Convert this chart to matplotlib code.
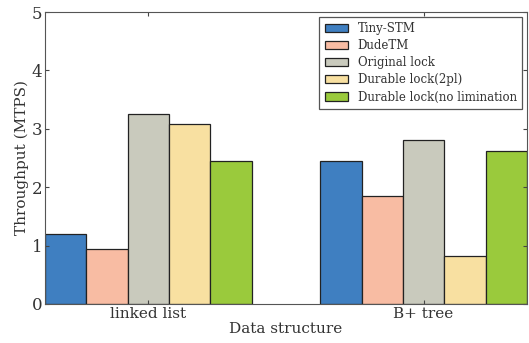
import numpy as np
import matplotlib.pyplot as plt

plt.rcParams['font.family'] = 'DejaVu Serif'
plt.rcParams['text.color'] = '#333333'
plt.rcParams['axes.labelcolor'] = '#333333'
plt.rcParams['xtick.labelcolor'] = '#333333'
plt.rcParams['ytick.labelcolor'] = '#333333'

groups = ["linked list", "B+ tree"]
series = ["Tiny-STM", "DudeTM", "Original lock", "Durable lock(2pl)", "Durable lock(no limination"]
values = [
    [1.20, 2.44],  # Tiny-STM
    [0.94, 1.84],  # DudeTM
    [3.25, 2.81],  # Original lock
    [3.09, 0.82],  # Durable lock(2pl)
    [2.45, 2.62],  # Durable lock(no limination
]
colors = ["#3f7fc1", "#f8bca3", "#c9cabd", "#f8e0a1", "#9aca3c"]

width = 0.15
x = np.arange(len(groups))

fig = plt.figure(figsize=(5.29, 3.43), dpi=100)
ax = fig.add_axes([0.085, 0.114, 0.911, 0.851])

for i, (name, vals) in enumerate(zip(series, values)):
    ax.bar(x + (i - 2) * width, vals, width, color=colors[i], edgecolor="#222222",
           linewidth=0.9, label=name)

ax.set_xlim(-0.375, 1.375)
ax.set_ylim(0, 5)
ax.set_xticks(x)
ax.set_xticklabels(groups, fontsize=11)
ax.set_yticks(range(6))
ax.tick_params(axis="y", labelsize=12)
ax.tick_params(direction="in", top=True, right=True, length=3, color="#444444", pad=2)
ax.set_xlabel("Data structure", fontsize=11, labelpad=1)
ax.set_ylabel("Throughput (MTPS)", fontsize=11, labelpad=2)
for s in ax.spines.values():
    s.set_color("#555555")

leg = ax.legend(loc="upper right", fontsize=8.5, fancybox=False, framealpha=1,
                edgecolor="#555555", handlelength=2.0, handleheight=0.7,
                labelspacing=0.35, borderpad=0.45, borderaxespad=0.4)
leg.get_frame().set_linewidth(0.9)

fig.savefig("out.png", dpi=100)
